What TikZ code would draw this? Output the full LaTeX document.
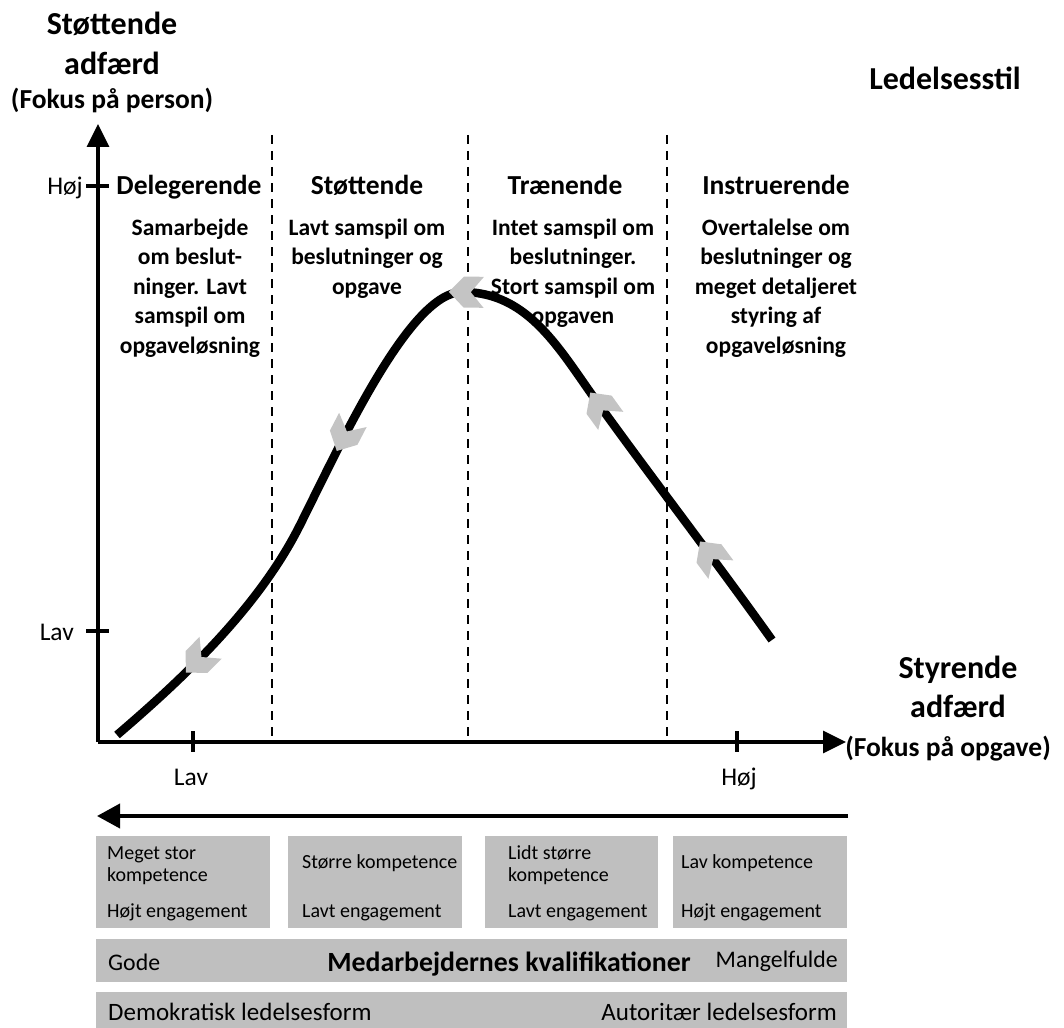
\documentclass[tikz,border=0pt]{standalone}
\usepackage{fontspec}
\setmainfont{Carlito}
\usetikzlibrary{arrows.meta,decorations.markings}
\definecolor{boxgray}{RGB}{191,191,191}
\definecolor{chevgray}{RGB}{196,196,196}
% grey chevron drawn in the marking frame, pointing back along the curve
\newcommand\chevronmark{\fill[chevgray] (-15pt,0pt) -- (0pt,15.5pt) -- (20pt,15.5pt) -- (7pt,0pt) -- (20pt,-15.5pt) -- (0pt,-15.5pt) -- cycle;}
\begin{document}
\begin{tikzpicture}[x=1pt,y=-1pt,
  axis/.style={line width=3.3pt},
  divider/.style={line width=2.6pt, dash pattern=on 9pt off 7pt},
  curve/.style={line width=8.5pt},
  title/.style={font=\bfseries\fontsize{32}{38}\selectfont, anchor=base, inner sep=0pt},
  subtitle/.style={font=\bfseries\fontsize{27.5}{32}\selectfont, anchor=base, inner sep=0pt},
  hdr/.style={font=\bfseries\fontsize{27.5}{32}\selectfont, anchor=base, inner sep=0pt},
  desc/.style={font=\bfseries\fontsize{23.5}{29.5}\selectfont, anchor=base, inner sep=0pt},
  ticklbl/.style={font=\fontsize{25.5}{30}\selectfont, inner sep=0pt},
  boxtxt/.style={font=\fontsize{20}{22}\selectfont, anchor=base west, inner sep=0pt},
  rowtxt/.style={font=\fontsize{23.8}{28}\selectfont, inner sep=0pt},
  rowtxtb/.style={font=\bfseries\fontsize{27.8}{32}\selectfont, inner sep=0pt},
  lasttxt/.style={font=\fontsize{25}{30}\selectfont, inner sep=0pt},
]
\useasboundingbox (0,0) rectangle (1064,1027);

% axes
\coordinate (O) at (98,742);
\coordinate (ytop) at (98,124);
\coordinate (xend) at (846,742);
\draw[axis, -{Triangle[length=23pt,width=22pt]}] (O) -- (ytop);
\draw[axis, -{Triangle[length=23pt,width=22pt]}] (O) -- (xend);

% ticks
\draw[axis] (86,186) -- (109,186);
\draw[axis] (86,631) -- (109,631);
\draw[axis] (193,731) -- (193,752);
\draw[axis] (737,731) -- (737,752);
\node[ticklbl, anchor=base east] (yhigh) at (83,194) {Høj};
\node[ticklbl, anchor=base east] (ylow) at (74,640) {Lav};
\node[ticklbl, anchor=base] (xlow) at (191,785) {Lav};
\node[ticklbl, anchor=base] (xhigh) at (739,785) {Høj};

% axis titles
\node[title] (yt1) at (112,35) {Støttende};
\node[title] (yt2) at (112,75) {adfærd};
\node[subtitle] (yt3) at (112,109) {(Fokus på person)};
\node[title] (style) at (945,90) {Ledelsesstil};
\node[title] (xt1) at (958,678) {Styrende};
\node[title] (xt2) at (958,717) {adfærd};
\node[subtitle] (xt3) at (948,756) {(Fokus på opgave)};

% column dividers
\draw[divider] (272,135) -- (272,737);
\draw[divider] (468,135) -- (468,737);
\draw[divider] (667,135) -- (667,737);

% column headings
\node[hdr] (h1) at (189,194) {Delegerende};
\node[hdr] (h2) at (367,194) {Støttende};
\node[hdr] (h3) at (565,194) {Trænende};
\node[hdr] (h4) at (776,194) {Instruerende};

% column descriptions
\node[desc] (d1) at (190,235) {\begin{tabular}[t]{@{}c@{}}Samarbejde\\om beslut-\\ninger. Lavt\\samspil om\\opgaveløsning\end{tabular}};
\node[desc] (d2) at (367,235) {\begin{tabular}[t]{@{}c@{}}Lavt samspil om\\beslutninger og\\opgave\end{tabular}};
\node[desc] (d3) at (573,235) {\begin{tabular}[t]{@{}c@{}}Intet samspil om\\beslutninger.\\Stort samspil om\\opgaven\end{tabular}};
\node[desc] (d4) at (776,235) {\begin{tabular}[t]{@{}c@{}}Overtalelse om\\beslutninger og\\meget detaljeret\\styring af\\opgaveløsning\end{tabular}};

% leadership curve with direction chevrons
\coordinate (c0) at (117,735);
\coordinate (c1) at (300,525);
\coordinate (c2) at (462,292);
\coordinate (c3) at (600,406);
\coordinate (c4) at (772,640);
\draw[curve, postaction={decorate}, decoration={markings,
    mark=at position 108pt with {\chevronmark},
    mark=at position 378pt with {\chevronmark},
    mark=at position 573pt with {\chevronmark},
    mark=at position 757pt with {\chevronmark},
    mark=at position 942pt with {\chevronmark}}]
  (c0) .. controls (180,681) and (258,609) .. (c1)
       .. controls (342,441) and (410,292) .. (c2)
       .. controls (530,292) and (560,351) .. (c3)
       .. controls (657,485) and (715,560) .. (c4);

% development arrow
\coordinate (arrR) at (848,816);
\coordinate (arrL) at (97,816);
\draw[line width=4pt, -{Triangle[length=23pt,width=24pt]}] (arrR) -- (arrL);

% competence boxes
\fill[boxgray] (96,836) rectangle (270,928);
\fill[boxgray] (288,836) rectangle (462,928);
\fill[boxgray] (485,836) rectangle (658,928);
\fill[boxgray] (673,836) rectangle (847,928);
\node[boxtxt] (b1a) at (107,859) {\begin{tabular}[t]{@{}l@{}}Meget stor\\kompetence\end{tabular}};
\node[boxtxt] (b1b) at (107,917) {Højt engagement};
\node[boxtxt] (b2a) at (302,868) {Større kompetence};
\node[boxtxt] (b2b) at (302,917) {Lavt engagement};
\node[boxtxt] (b3a) at (508,859) {\begin{tabular}[t]{@{}l@{}}Lidt større\\kompetence\end{tabular}};
\node[boxtxt] (b3b) at (508,917) {Lavt engagement};
\node[boxtxt] (b4a) at (681,868) {Lav kompetence};
\node[boxtxt] (b4b) at (681,917) {Højt engagement};

% qualification band
\fill[boxgray] (96,939) rectangle (847,982);
\node[rowtxt, anchor=base west] (q1) at (108,970) {Gode};
\node[rowtxtb, anchor=base] (q2) at (509,971) {Medarbejdernes kvalifikationer};
\node[rowtxt, anchor=base east] (q3) at (838,967) {Mangelfulde};

% leadership form band
\fill[boxgray] (96,992) rectangle (847,1030);
\node[lasttxt, anchor=base west] (f1) at (108,1020) {Demokratisk ledelsesform};
\node[lasttxt, anchor=base east] (f2) at (837,1020) {Autoritær ledelsesform};
\end{tikzpicture}
\end{document}
